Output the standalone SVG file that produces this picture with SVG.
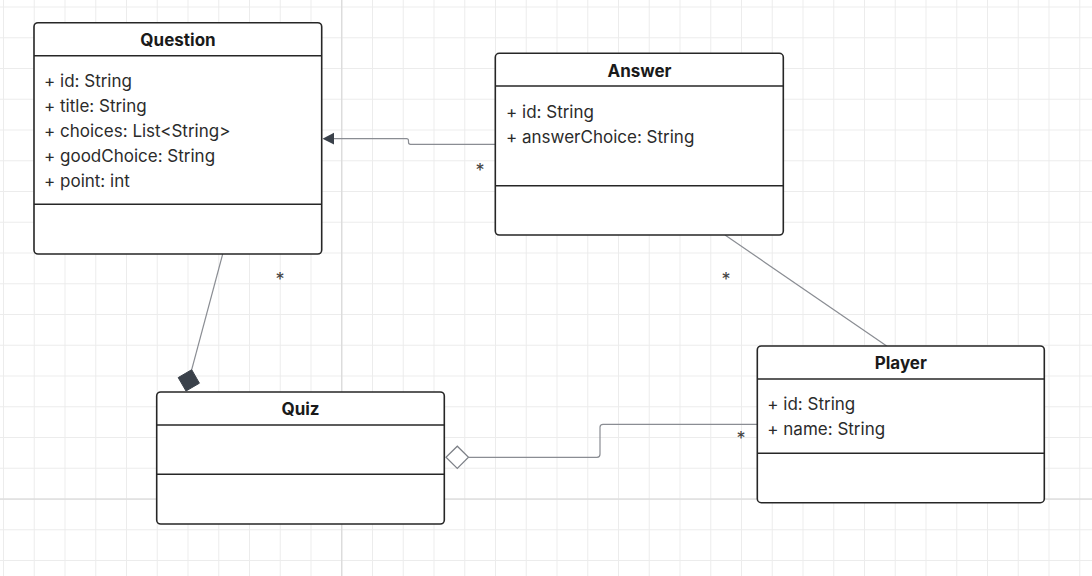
<svg xmlns="http://www.w3.org/2000/svg" width="1092" height="576" viewBox="0 0 1092 576">
  <style>
    .box { fill: #ffffff; stroke: #262626; stroke-width: 1.6; }
    .sep { stroke: #262626; stroke-width: 1.6; }
    .title { font-family: Inter, "Liberation Sans", sans-serif; font-size: 17px; font-weight: 700; fill: #1a1a1a; text-anchor: middle; }
    .attr { font-family: Inter, "Liberation Sans", sans-serif; font-size: 17px; fill: #2b2b2b; }
    .edge { fill: none; stroke: #8a8d93; stroke-width: 1.2; }
    .mult { font-family: Inter, "Liberation Sans", sans-serif; font-size: 18px; fill: #444; text-anchor: middle; }
  </style>
  <defs>
    <pattern id="grid" patternUnits="userSpaceOnUse" x="3" y="6.5" width="30.75" height="30.75">
      <rect x="0" y="0" width="1" height="30.75" fill="#ececec"/>
      <rect x="0" y="0" width="30.75" height="1" fill="#ececec"/>
    </pattern>
  </defs>

  <!-- canvas grid -->
  <rect width="1092" height="576" fill="#ffffff"/>
  <rect width="1092" height="576" fill="url(#grid)"/>
  <rect x="341" y="0" width="1.4" height="576" fill="#dcdcdc"/>
  <rect x="0" y="498.4" width="1092" height="1.4" fill="#dcdcdc"/>

  <!-- connectors -->
  <g id="connectors">
    <!-- Answer -> Question (navigable association) -->
    <path class="edge" d="M495,144.3 H410.5 Q408.5,144.3 408.5,142.3 V140.7 Q408.5,138.7 406.5,138.7 H332"/>
    <path d="M322.5,138.7 L334,132.8 L334,144.6 Z" fill="#3a414a"/>
    <text class="mult" x="480" y="177">*</text>

    <!-- Question <>- Quiz (composition) -->
    <path class="edge" d="M222.7,254 L191.7,369.7"/>
    <path d="M186,391 L178.2,377.6 L191.7,369.7 L199.4,383.2 Z" fill="#3a414a" stroke="#3a414a" stroke-width="1"/>
    <text class="mult" x="280" y="285.5">*</text>

    <!-- Answer - Player -->
    <path class="edge" d="M725,235 L886.7,346"/>
    <text class="mult" x="726" y="285.5">*</text>

    <!-- Quiz <>- Player (aggregation) -->
    <path class="edge" d="M468.5,457.3 H597 Q600,457.3 600,454.3 V427.3 Q600,424.3 603,424.3 H757"/>
    <path d="M446,457.3 L457.3,446.2 L468.5,457.3 L457.3,468.4 Z" fill="#ffffff" stroke="#7d8087" stroke-width="1.2"/>
    <text class="mult" x="741" y="444.5">*</text>
  </g>

  <!-- Question -->
  <g id="question">
    <rect class="box" x="34" y="22.7" width="287.7" height="231.3" rx="4"/>
    <line class="sep" x1="34" y1="55.7" x2="321.7" y2="55.7"/>
    <line class="sep" x1="34" y1="204.3" x2="321.7" y2="204.3"/>
    <text class="title" x="178" y="45.8">Question</text>
    <text class="attr" x="44" y="87.3">+ id: String</text>
    <text class="attr" x="44" y="112.3">+ title: String</text>
    <text class="attr" x="44" y="137.2">+ choices: List&lt;String&gt;</text>
    <text class="attr" x="44" y="162">+ goodChoice: String</text>
    <text class="attr" x="44" y="187">+ point: int</text>
  </g>

  <!-- Answer -->
  <g id="answer">
    <rect class="box" x="495.3" y="53.3" width="288" height="181.7" rx="4"/>
    <line class="sep" x1="495.3" y1="86" x2="783.3" y2="86"/>
    <line class="sep" x1="495.3" y1="185.7" x2="783.3" y2="185.7"/>
    <text class="title" x="639.5" y="76.8">Answer</text>
    <text class="attr" x="506" y="118.3">+ id: String</text>
    <text class="attr" x="506" y="143.3">+ answerChoice: String</text>
  </g>

  <!-- Quiz -->
  <g id="quiz">
    <rect class="box" x="156.7" y="392" width="287.6" height="132" rx="4"/>
    <line class="sep" x1="156.7" y1="425" x2="444.3" y2="425"/>
    <line class="sep" x1="156.7" y1="474.3" x2="444.3" y2="474.3"/>
    <text class="title" x="300.5" y="415">Quiz</text>
  </g>

  <!-- Player -->
  <g id="player">
    <rect class="box" x="757.3" y="346" width="287" height="156.7" rx="4"/>
    <line class="sep" x1="757.3" y1="379" x2="1044.3" y2="379"/>
    <line class="sep" x1="757.3" y1="453.3" x2="1044.3" y2="453.3"/>
    <text class="title" x="900.8" y="368.8">Player</text>
    <text class="attr" x="767.3" y="410.4">+ id: String</text>
    <text class="attr" x="767.3" y="435.4">+ name: String</text>
  </g>
</svg>
